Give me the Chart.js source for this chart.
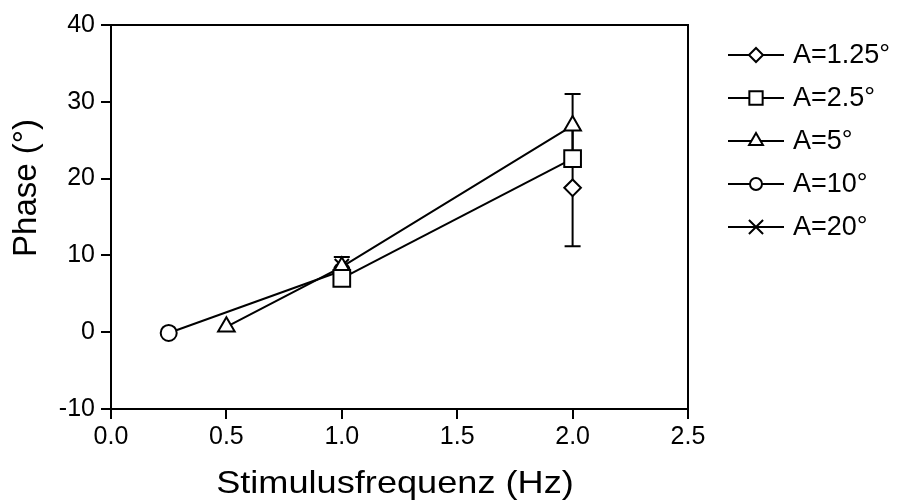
<!DOCTYPE html>
<html>
<head>
<meta charset="utf-8">
<script src="https://cdn.jsdelivr.net/npm/chart.js@4.4.1/dist/chart.umd.min.js"></script>
<style>
html,body{margin:0;padding:0;background:#fff;}
#wrap{width:907px;height:500px;position:relative;}
</style>
</head>
<body>
<div id="wrap"><canvas id="c" width="907" height="500"></canvas></div>
<script>
// ---- data ----
const seriesNames = ["A=1.25°", "A=2.5°", "A=5°", "A=10°", "A=20°"];
const x125 = [2.0];        const y125 = [18.8];            const e125 = [7.6];
const x25  = [1.0, 2.0];   const y25  = [7.0, 22.6];       const e25  = [0, 0];
const x5   = [0.5, 1.0, 2.0]; const y5 = [0.7, 8.5, 26.9]; const e5 = [0, 1.3, 4.1];
const x10  = [0.25, 1.0];  const y10  = [-0.1, 8.0];       const e10 = [0, 0];
const x20  = [1.0];        const y20  = [8.6];             const e20 = [0];
const xTicks = [0.0, 0.5, 1.0, 1.5, 2.0, 2.5];
const yTicks = [-10, 0, 10, 20, 30, 40];
const xTitle = 'Stimulusfrequenz (Hz)';
const yTitle = 'Phase (°)';

const FONT = "'Liberation Sans', Arial, Helvetica, sans-serif";
const styles = ['rectRot', 'rect', 'triangle', 'circle', 'crossRot'];
const radii = [8.3, 11.8, 9.6, 8, 10];
const legendRadii = [7, 9.4, 8, 6, 10];
const xs = [x125, x25, x5, x10, x20];
const ys = [y125, y25, y5, y10, y20];
const es = [e125, e25, e5, e10, e20];

function pts(xa, ya){ return xa.map((v,i)=>({x:v, y:ya[i]})); }

const datasets = seriesNames.map((n,i)=>({
  label: n,
  data: pts(xs[i], ys[i]),
  errors: es[i],
  showLine: true,
  borderColor: '#000',
  borderWidth: 2,
  pointStyle: styles[i],
  pointRadius: radii[i],
  pointBorderWidth: 2,
  pointBackgroundColor: '#fff',
  pointBorderColor: '#000',
  fill: false,
  tension: 0
}));
const order = [3, 4, 2, 1, 0];
order.forEach((di, k)=>{ datasets[di].order = 10 - k; });

const errorBars = {
  id: 'errorBars',
  beforeDatasetsDraw(chart){
    const ctx = chart.ctx, xS = chart.scales.x, yS = chart.scales.y;
    ctx.save();
    ctx.strokeStyle = '#000'; ctx.lineWidth = 2;
    chart.data.datasets.forEach(ds=>{
      ds.data.forEach((p,i)=>{
        const e = ds.errors[i];
        if(!e) return;
        const px = xS.getPixelForValue(p.x);
        const t = yS.getPixelForValue(p.y + e), b = yS.getPixelForValue(p.y - e);
        ctx.beginPath();
        ctx.moveTo(px, t); ctx.lineTo(px, b);
        ctx.moveTo(px-8, t); ctx.lineTo(px+8, t);
        ctx.moveTo(px-8, b); ctx.lineTo(px+8, b);
        ctx.stroke();
      });
    });
    ctx.restore();
  }
};

const frame = {
  id: 'frame',
  afterDraw(chart){
    const ctx = chart.ctx, a = chart.chartArea;
    ctx.save();
    ctx.strokeStyle = '#000'; ctx.lineWidth = 2;
    ctx.beginPath();
    ctx.moveTo(a.left, a.top); ctx.lineTo(a.right, a.top); ctx.lineTo(a.right, a.bottom);
    ctx.stroke();
    // axis titles
    ctx.fillStyle = '#000';
    ctx.textBaseline = 'alphabetic';
    ctx.textAlign = 'center';
    ctx.font = '32px ' + FONT;
    ctx.save();
    ctx.translate(395, 493);
    ctx.scale(1.13, 1);
    ctx.fillText(xTitle, 0, 0);
    ctx.restore();
    ctx.save();
    ctx.translate(36, 188);
    ctx.rotate(-Math.PI/2);
    ctx.font = '33px ' + FONT;
    ctx.fillText(yTitle, 0, 0);
    ctx.restore();
    // legend
    ctx.textAlign = 'left';
    ctx.font = '27px ' + FONT;
    ctx.textBaseline = 'middle';
    chart.data.datasets.forEach((ds,i)=>{
      const y = 55 + i*43;
      ctx.lineWidth = 2;
      ctx.strokeStyle = '#000';
      ctx.beginPath(); ctx.moveTo(728, y); ctx.lineTo(784, y); ctx.stroke();
      ctx.fillStyle = '#fff';
      Chart.helpers.drawPoint(ctx, {pointStyle: ds.pointStyle, radius: legendRadii[i], borderWidth: 2}, 756, y);
      ctx.fillStyle = '#000';
      ctx.fillText(ds.label, 793, y + 1);
    });
    ctx.restore();
  }
};

new Chart(document.getElementById('c'), {
  type: 'scatter',
  data: { datasets },
  options: {
    responsive: false,
    animation: false,
    devicePixelRatio: 1,
    layout: { padding: { top: 25, right: 219, left: 0, bottom: 0 } },
    plugins: { legend: { display: false }, tooltip: { enabled: false } },
    scales: {
      x: {
        type: 'linear', min: 0, max: 2.5,
        afterBuildTicks: s => { s.ticks = xTicks.map(v=>({value:v})); },
        afterFit: s => { s.height = 91; },
        ticks: { color: '#000', font: { size: 25, family: FONT }, padding: 3,
          callback: v => v.toFixed(1), maxRotation: 0 },
        grid: { drawOnChartArea: false, drawTicks: true, tickLength: 10, color: '#000', lineWidth: 2 },
        border: { color: '#000', width: 2 },
        title: { display: false }
      },
      y: {
        type: 'linear', min: -10, max: 40,
        afterBuildTicks: s => { s.ticks = yTicks.map(v=>({value:v})); },
        afterFit: s => { s.width = 111; },
        ticks: { color: '#000', font: { size: 25, family: FONT }, padding: 6 },
        grid: { drawOnChartArea: false, drawTicks: true, tickLength: 10, color: '#000', lineWidth: 2 },
        border: { color: '#000', width: 2 },
        title: { display: false }
      }
    }
  },
  plugins: [errorBars, frame]
});
</script>
</body>
</html>
